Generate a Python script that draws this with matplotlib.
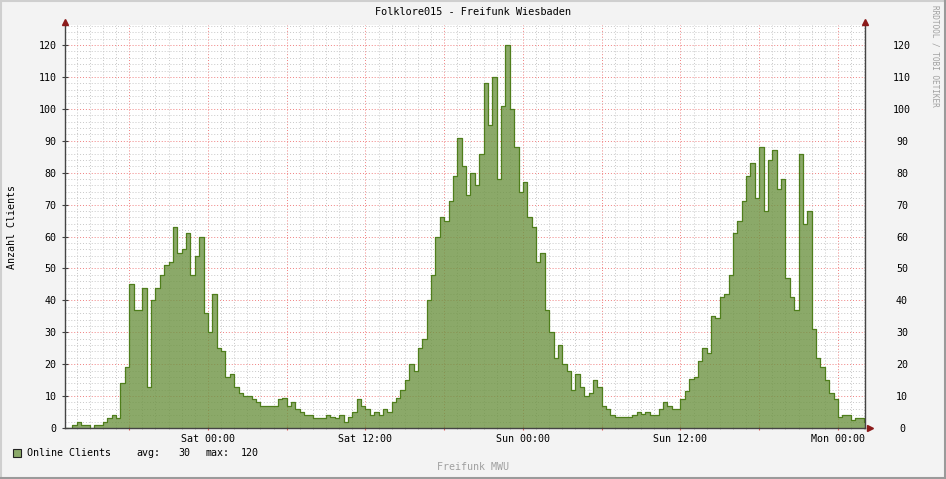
import numpy as np
import matplotlib
matplotlib.use("Agg")
import matplotlib.pyplot as plt
from matplotlib.lines import Line2D
from matplotlib.patches import Rectangle
from matplotlib.ticker import MultipleLocator, FuncFormatter
import matplotlib.transforms as mtransforms

# online clients, one value every 20 minutes, starting Fri 13:00
# (time axis in hours relative to Sat 00:00)
t_start = -11.0
t_step = 1.0 / 3.0
clients = [
    0, 0, 1, 2, 1, 1, 0, 1, 1, 2, 3, 4, 3, 14, 19, 45, 37, 37, 44, 13,
    40, 44, 48, 51, 52, 63, 55, 56, 61, 48, 54, 60, 36, 30, 42, 25, 24, 16, 17, 13,
    11, 10, 10, 9, 8, 7, 7,
    7, 7, 9, 9.5, 7, 8, 6, 5, 4, 4, 3, 3, 3, 4, 3.5, 3, 4, 2, 3.5, 5,
    9, 7, 6, 4, 5, 4, 6, 5, 8, 9.5, 12, 15, 20, 18, 25, 28, 40, 48, 60, 66,
    65, 71, 79, 91, 82,
    73, 80, 76, 86, 108, 95, 110, 78, 101, 120, 100, 88, 74, 77, 66, 63, 52, 55, 37, 30,
    22, 26, 20, 18, 12, 17, 13, 10, 11, 15, 13, 7, 6, 4, 3.5, 3.5, 3.5, 3.5, 4, 5,
    4.5, 5, 4, 4, 6, 8,
    7, 6, 6, 9, 11.5, 15.5, 16, 21, 25, 23.5, 35, 34.5, 41, 42, 48, 61, 65, 71, 79, 83,
    72, 88, 68, 84, 87, 75, 78, 47, 41, 37, 86, 64, 68, 31, 22, 19, 15, 11, 9, 3.5,
    4, 4, 2.5, 3, 3, 2,
]
tick_hours = [0, 12, 24, 36, 48]
tick_labels = ["Sat 00:00", "Sat 12:00", "Sun 00:00", "Sun 12:00", "Mon 00:00"]
legend_name = "Online Clients"
legend_avg = 30
legend_max = 120

W, H = 946, 479
plt.rcParams["font.family"] = ["DejaVu Sans Mono"]
plt.rcParams["font.size"] = 7.2

fig = plt.figure(figsize=(W / 100, H / 100), dpi=100, facecolor="#F3F3F3")
ax = fig.add_axes([65 / W, (H - 428) / H, 800 / W, 403 / H])
ax.set_facecolor("white")

vals = np.array(clients, dtype=float)
t = t_start + np.arange(len(vals) + 1) * t_step
v = np.append(vals, vals[-1])

fill_c = "#6E9443"
line_c = "#4F7E1C"
ax.fill_between(t, 0, v, step="post", color=fill_c, alpha=0.8, lw=0, zorder=3)
ax.step(t, v, where="post", color=line_c, lw=0.9, zorder=4)

xlim = (-10.895, 50.06)
ylim = (0, 126.3)
ax.set_xlim(*xlim)
ax.set_ylim(*ylim)

# grid
ax.xaxis.set_major_locator(MultipleLocator(6))
ax.xaxis.set_minor_locator(MultipleLocator(1))
ax.yaxis.set_major_locator(MultipleLocator(10))
ax.yaxis.set_minor_locator(MultipleLocator(2))
ax.grid(which="minor", color="#C8C8C8", ls=(0, (1, 2)), lw=0.7, zorder=1)
ax.grid(which="major", color="#F08080", ls=(0, (1, 2)), lw=0.7, zorder=2)
ax.set_axisbelow(True)

lab = dict(zip(tick_hours, tick_labels))
ax.xaxis.set_major_formatter(FuncFormatter(lambda x, p: lab.get(int(round(x)), "")))
ax.yaxis.set_major_formatter(FuncFormatter(lambda y, p: "%d" % y))

ax.tick_params(axis="x", which="major", length=3, color="#E06060", pad=3,
               direction="inout", labelsize=7.2)
ax.tick_params(axis="x", which="minor", length=2, color="#B0B0B0", direction="inout")
ax.tick_params(axis="y", which="major", length=4, color="#404040", direction="inout",
               right=True, labelright=False, labelsize=7.2, pad=4)
ax.tick_params(axis="y", which="minor", length=0)

for s in ["left", "right", "bottom"]:
    ax.spines[s].set_color("#444444")
    ax.spines[s].set_linewidth(1.0)
    ax.spines[s].set_zorder(5)
ax.spines["top"].set_visible(False)

# right hand labels, centred like the rrdtool right axis
ax2 = ax.twinx()
ax2.set_ylim(*ylim)
ax2.yaxis.set_major_locator(MultipleLocator(10))
ax2.yaxis.set_major_formatter(FuncFormatter(lambda y, p: "%d" % y))
ax2.tick_params(axis="y", length=0, pad=37 * 0.72, labelsize=7.2)
for lbl in ax2.get_yticklabels():
    lbl.set_horizontalalignment("center")
for s in ax2.spines.values():
    s.set_visible(False)

# axis arrows
arrow_c = "#8B1A1A"
trans_up = mtransforms.offset_copy(ax.transAxes, fig=fig, x=0, y=3, units="dots")
trans_right = mtransforms.offset_copy(ax.transAxes, fig=fig, x=5, y=0, units="dots")
for xa in (0, 1):
    ax2.plot([xa], [1], marker="^", ms=4.5, color=arrow_c, transform=trans_up,
             clip_on=False, zorder=6)
ax2.plot([1], [0], marker=">", ms=4.5, color=arrow_c, transform=trans_right,
         clip_on=False, zorder=6)

# texts
fig.text(473 / W, 1 - 12 / H, "Folklore015 - Freifunk Wiesbaden",
         ha="center", va="center", fontsize=7.4)
fig.text(12 / W, 1 - 227 / H, "Anzahl Clients", rotation=90,
         ha="center", va="center", fontsize=7.2)
fig.text(935 / W, 1 - 5 / H, "RRDTOOL / TOBI OETIKER", rotation=-90,
         ha="center", va="top", fontsize=5.6, color="#A0A0A0")
fig.text(473 / W, 1 - 467 / H, "Freifunk MWU", ha="center", va="center",
         fontsize=7.2, color="#A0A0A0")

# legend
fig.add_artist(Rectangle((13 / W, 1 - 457 / H), 8 / W, 8 / H, transform=fig.transFigure,
                         facecolor="#8BA969", edgecolor="#222222", lw=0.8))
ly = 1 - 453 / H
fig.text(27 / W, ly, legend_name, ha="left", va="center")
fig.text(136 / W, ly, "avg:", ha="left", va="center")
fig.text(190 / W, ly, "%d" % legend_avg, ha="right", va="center")
fig.text(205 / W, ly, "max:", ha="left", va="center")
fig.text(259 / W, ly, "%d" % legend_max, ha="right", va="center")

# outer 3d frame
fig.add_artist(Line2D([0, 1], [1 - 1 / H, 1 - 1 / H], transform=fig.transFigure,
                      color="#CFCFCF", lw=1.5))
fig.add_artist(Line2D([1 / W, 1 / W], [0, 1], transform=fig.transFigure,
                      color="#CFCFCF", lw=1.5))
fig.add_artist(Line2D([0, 1], [1 / H, 1 / H], transform=fig.transFigure,
                      color="#9A9A9A", lw=1.5))
fig.add_artist(Line2D([1 - 1 / W, 1 - 1 / W], [0, 1], transform=fig.transFigure,
                      color="#9A9A9A", lw=1.5))

fig.savefig("out.png", dpi=100, facecolor=fig.get_facecolor())
